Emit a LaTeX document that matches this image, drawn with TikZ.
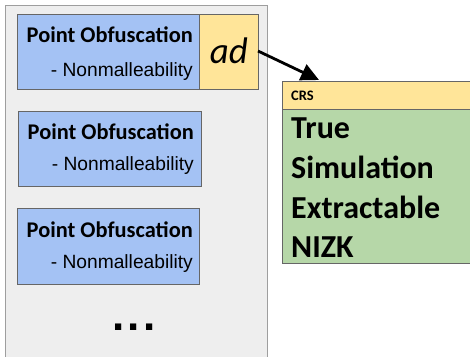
\documentclass[tikz,border=0pt]{standalone}
\usepackage{fontspec}
\setmainfont{Carlito}
\newfontfamily\arialf{Liberation Sans}
\usetikzlibrary{arrows.meta}
\definecolor{panelgray}{HTML}{EEEEEE}
\definecolor{panelline}{HTML}{9E9E9E}
\definecolor{bluebox}{HTML}{A4C2F4}
\definecolor{yellowbox}{HTML}{FFE599}
\definecolor{greenbox}{HTML}{B6D7A8}
\definecolor{edgegray}{HTML}{666666}
\tikzset{
  box/.style={draw=edgegray, line width=0.9pt, anchor=north west, inner sep=0pt, outer sep=0pt},
  pobox/.style={box, fill=bluebox, minimum width=182pt, minimum height=75pt},
  titletext/.style={anchor=base east, inner sep=0pt, font=\fontsize{22.4}{25}\selectfont\bfseries},
  subtext/.style={anchor=base east, inner sep=0pt, font=\arialf\fontsize{19.2}{22}\selectfont},
  bigtext/.style={anchor=base west, inner sep=0pt, font=\fontsize{32}{36}\selectfont\bfseries},
}
\begin{document}
\begin{tikzpicture}[x=1pt, y=-1pt]
\useasboundingbox (0,0) rectangle (470,356);
\clip (0,0) rectangle (470,356);
% panel
\node[box, draw=panelline, fill=panelgray, minimum width=262pt, minimum height=400pt] (panel) at (5,5) {};
% first row
\node[pobox] (po1) at (17,14) {};
\node[box, fill=yellowbox, minimum width=59pt, minimum height=75pt] (ad) at (199,14) {};
\node[anchor=base, inner sep=0pt, font=\fontsize{37}{40}\selectfont\itshape] (adtext) at (229,63) {ad};
\node[titletext] (t1) at (193,42) {Point Obfuscation};
\node[subtext] (s1) at (193,76) {- Nonmalleability};
% second
\node[pobox, minimum width=183pt] (po2) at (18,111) {};
\node[titletext] (t2) at (194,139) {Point Obfuscation};
\node[subtext] (s2) at (194,170) {- Nonmalleability};
% third
\node[pobox, minimum height=76pt] (po3) at (17,208) {};
\node[titletext] (t3) at (193,237) {Point Obfuscation};
\node[subtext] (s3) at (193,268) {- Nonmalleability};
% dots
\node[anchor=base, inner sep=0pt, font=\arialf\fontsize{44}{48}\selectfont\bfseries] (dots) at (134,330) {.\kern3.5pt.\kern3.5pt.};
% CRS
\node[box, fill=yellowbox, minimum width=200pt, minimum height=28pt] (crshead) at (282,81) {};
\node[anchor=base west, inner sep=0pt, font=\fontsize{14.5}{16}\selectfont\bfseries] (crs) at (291,100) {CRS};
\node[box, fill=greenbox, minimum width=200pt, minimum height=154pt] (crsbody) at (282,109) {};
\node[bigtext] (l1) at (291,138) {True};
\node[bigtext] (l2) at (291,178) {Simulation};
\node[bigtext] (l3) at (291,218) {Extractable};
\node[bigtext] (l4) at (291,257) {NIZK};
% arrow
\coordinate (tip) at (319,80);
\draw[line width=2.8pt, -{Triangle[length=18pt,width=17pt]}] (ad.east |- 0,51) -- (tip);
\end{tikzpicture}
\end{document}
